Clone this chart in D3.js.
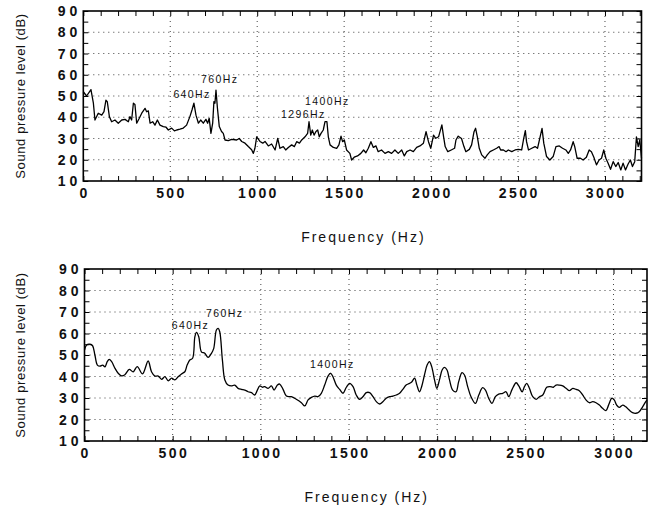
<!DOCTYPE html>
<html>
<head>
<meta charset="utf-8">
<style>
  body { margin: 0; background: #fff; }
  svg { display: block; }
  .grid line { stroke: #444; stroke-width: 1; stroke-dasharray: 1,4; }
  .minor line { stroke: #000; stroke-width: 1; }
  .minor path { display: none; }
  .tick-label { font-family: "Liberation Sans", Arial, sans-serif; font-weight: bold; font-size: 14px; fill: #111; }
  .title { font-family: "Liberation Sans", Arial, sans-serif; font-size: 13px; fill: #111; }
  .note { font-family: "Liberation Sans", Arial, sans-serif; font-size: 10.5px; fill: #111; letter-spacing: 1.4px; }
  .frame { fill: none; stroke: #000; stroke-width: 1.6; }
  .spectrum { fill: none; stroke: #000; stroke-width: 1.3; stroke-linejoin: round; }
</style>
</head>
<body>
<svg width="655" height="512"></svg>
<script src="https://d3js.org/d3.v7.min.js"></script>
<script>

// tick labels
var xTicks = [0, 500, 1000, 1500, 2000, 2500, 3000];
var yTicks = [10, 20, 30, 40, 50, 60, 70, 80, 90];

// upper spectrum (narrow band)
var topFreq = [0, 19, 44, 58, 67, 86, 106, 119, 130, 138, 150, 163, 182, 201, 221, 240, 259, 268, 278, 288,
  297, 307, 322, 336, 355, 364, 374, 384, 399, 412, 426, 441, 460, 476, 489, 508, 524, 537, 556, 575,
  594, 613, 625, 636, 648, 662, 675, 690, 705, 715, 724, 734, 744, 751, 757, 763, 771, 782, 795, 805,
  815, 834, 853, 882, 897, 911, 930, 949, 968, 978, 987, 997, 1016, 1032, 1045, 1064, 1083, 1103, 1118, 1131,
  1150, 1164, 1179, 1198, 1214, 1227, 1243, 1256, 1275, 1290, 1298, 1308, 1317, 1327, 1338, 1348, 1357, 1367, 1380, 1390,
  1401, 1409, 1419, 1438, 1457, 1470, 1482, 1491, 1501, 1514, 1533, 1543, 1558, 1577, 1596, 1612, 1625, 1639, 1654, 1668,
  1683, 1696, 1715, 1735, 1754, 1773, 1792, 1811, 1831, 1846, 1860, 1879, 1898, 1917, 1936, 1956, 1971, 1985, 1998, 2014,
  2027, 2043, 2062, 2072, 2081, 2096, 2116, 2135, 2143, 2156, 2175, 2189, 2200, 2220, 2233, 2247, 2256, 2266, 2277, 2291,
  2310, 2323, 2339, 2358, 2377, 2391, 2400, 2416, 2431, 2444, 2464, 2483, 2502, 2521, 2531, 2542, 2549, 2560, 2579, 2598,
  2612, 2627, 2638, 2648, 2664, 2683, 2702, 2718, 2737, 2756, 2775, 2789, 2802, 2817, 2826, 2840, 2859, 2874, 2893, 2909,
  2922, 2936, 2951, 2966, 2980, 2993, 3005, 3018, 3032, 3047, 3062, 3076, 3091, 3104, 3118, 3133, 3146, 3158, 3171, 3181,
  3191, 3200, 3210];
var topLevel = [52, 50, 53, 46.6, 38.7, 41.9, 41, 42.6, 48, 47.3, 40.3, 37.9, 38.7, 37.2, 38.7, 39, 37.9, 40.3, 38.7, 46.6,
  46, 37.2, 39.5, 41.9, 44.2, 42.6, 43, 37.2, 37.9, 36.3, 38.7, 36.3, 35.6, 35.3, 34, 34.9, 33.6, 34, 34.4, 34.9,
  36.3, 40.3, 43.4, 46.6, 41, 37.2, 38.7, 37.2, 39, 37.2, 39.5, 32.4, 37.2, 47.3, 46.6, 52.8, 44.6, 35.6, 33.3, 32.4,
  29.3, 29, 29.6, 29.3, 30, 28.6, 27.8, 26.2, 24.7, 23, 25.4, 30.8, 28.6, 27.8, 28.6, 26.5, 27.4, 24.6, 30.1, 25.4,
  26.2, 24.6, 25.8, 27, 26.2, 28.5, 27.8, 29.3, 30.8, 32.4, 37.9, 31.6, 34, 31.6, 33.3, 34, 30.8, 32.4, 34, 37.9,
  37.9, 30.8, 27, 25.8, 25.4, 27, 31.1, 28.5, 29.3, 24.6, 23, 19.9, 21.2, 21.8, 23, 24.6, 23.3, 25.4, 28.5, 25.8,
  26.5, 23.8, 24.6, 23, 23.8, 23, 24.6, 23, 24.6, 21.8, 23.8, 24.6, 23.8, 25.8, 26.5, 27.8, 33.2, 28.5, 25.4, 31.6,
  30.1, 30.8, 36.4, 30.8, 26.2, 23.8, 24.6, 25.4, 29.3, 31.1, 30, 26.2, 23.8, 24.9, 27, 33.2, 34.8, 30.8, 25.4, 22.3,
  20.7, 22.3, 23.8, 24.6, 25.4, 26.2, 24.6, 24.6, 23.8, 24.6, 23.8, 24.6, 24.9, 24.6, 29.3, 33.7, 28.5, 24.6, 25.4, 26.2,
  25.4, 30.8, 34.8, 27.8, 21.5, 19.9, 21.5, 26.2, 26.5, 25.4, 24.6, 23, 24.6, 28.5, 26.2, 20.7, 20.7, 19.9, 21.2, 24.6,
  23.8, 21.2, 17.6, 19.9, 20.7, 24.6, 20.7, 18.4, 15.5, 19.1, 16.8, 18.7, 15.2, 18.4, 15.2, 18, 19.9, 16.8, 19.1, 30.8,
  26.2, 29.3, 20.7];

// lower spectrum (smoothed)
var bottomFreq = [0, 12, 31, 46, 59, 73, 88, 103, 116, 129, 140, 154, 173, 191, 210, 229, 254, 276, 299, 329,
  361, 380, 399, 418, 437, 456, 475, 494, 512, 531, 550, 569, 582, 597, 613, 626, 635, 648, 663, 682,
  701, 720, 733, 748, 758, 767, 782, 796, 814, 833, 852, 871, 890, 909, 928, 947, 965, 979, 994, 1009,
  1022, 1041, 1060, 1075, 1094, 1107, 1126, 1145, 1173, 1201, 1230, 1249, 1268, 1287, 1306, 1324, 1343, 1362, 1381, 1396,
  1409, 1428, 1447, 1466, 1485, 1504, 1523, 1541, 1560, 1579, 1598, 1617, 1636, 1655, 1674, 1692, 1711, 1730, 1749, 1768,
  1787, 1805, 1824, 1843, 1857, 1872, 1885, 1900, 1913, 1928, 1943, 1956, 1969, 1985, 1998, 2013, 2028, 2041, 2056, 2070,
  2088, 2107, 2122, 2141, 2155, 2173, 2192, 2217, 2236, 2258, 2274, 2292, 2311, 2330, 2349, 2372, 2391, 2406, 2425, 2448,
  2463, 2482, 2495, 2508, 2523, 2542, 2561, 2580, 2599, 2621, 2640, 2659, 2674, 2693, 2712, 2731, 2750, 2769, 2788, 2806,
  2825, 2844, 2863, 2882, 2901, 2920, 2938, 2957, 2972, 2991, 3004, 3018, 3033, 3052, 3070, 3089, 3108, 3127, 3146, 3165,
  3183, 3190];
var bottomLevel = [52.3, 54.7, 55, 54.3, 50, 45.3, 44.8, 45.3, 44.5, 46.9, 48, 46.9, 43.8, 41.5, 40.3, 40.8, 43.3, 42.2, 44.6, 41.2,
  47.2, 42.2, 40.2, 40.2, 38.7, 39.9, 38, 39.2, 38.4, 39.9, 41.2, 42.2, 45.3, 47.7, 48.5, 58.5, 60.5, 58.5, 51.5, 50.8,
  48.9, 50.8, 53.1, 61.6, 62.4, 60.8, 47.7, 38.4, 36, 35.6, 36, 34.5, 34, 33.7, 32.9, 32.5, 31.4, 33.4, 35.6, 35,
  35.3, 34.5, 35.6, 33.7, 36, 36.5, 34, 30.9, 30.6, 29.4, 27.8, 26.3, 29.1, 30.3, 30.9, 30.6, 32.2, 36, 40.2, 41.5,
  39.9, 36, 34, 32.2, 35, 36.8, 35.3, 31.4, 29.4, 30.6, 32.5, 32.5, 30.6, 28.3, 27.2, 28.3, 29.9, 30.6, 30.9, 31.4,
  32.2, 34, 36, 36.8, 37.6, 39.2, 36, 32.9, 35.6, 40.7, 45.3, 46.9, 44.6, 38.4, 34.5, 38.4, 43, 44.2, 43, 38.4,
  33.7, 32.9, 37.6, 41.8, 40.7, 35.3, 30.6, 27.5, 31.4, 34.8, 33.7, 29.9, 27.5, 30.6, 31.8, 32.2, 32.9, 30.6, 34, 37.1,
  35.6, 32.9, 35.3, 36.8, 34.5, 30.6, 29.4, 30.6, 31.4, 35, 35.3, 35, 36, 36, 35.6, 34.5, 33.4, 34.5, 34, 33.4,
  31.4, 29.1, 27.8, 28.3, 27.8, 26.7, 25.2, 24.1, 26.7, 29.9, 29.1, 26.7, 25.6, 26.7, 25.9, 24.4, 23.2, 22.9, 23.6, 25.9,
  28.3, 29];

// peak annotations (text, Hz and dB where the text starts)
var topNotes = ["760Hz", "640Hz", "1400Hz", "1296Hz"];
var topNoteFreq = [677, 518, 1275, 1137];
var topNoteLevel = [56, 48.9, 45.8, 39.8];
var bottomNotes = ["760Hz", "640Hz", "1400Hz"];
var bottomNoteFreq = [689, 495, 1279];
var bottomNoteLevel = [67.5, 62, 44.1];

var svg = d3.select("svg");
svg.append("rect").attr("width", 655).attr("height", 512).attr("fill", "#fff");

function drawPanel(p) {
  var x = d3.scaleLinear().domain([0, p.fmax]).range([p.left, p.right]);
  var y = d3.scaleLinear().domain([10, 90]).range([p.bottom, p.top]);
  var g = svg.append("g");

  // dotted grid
  var grid = g.append("g").attr("class", "grid");
  grid.selectAll(".h").data(yTicks.slice(1, -1)).enter().append("line")
    .attr("x1", p.left).attr("x2", p.right)
    .attr("y1", function(d) { return y(d); }).attr("y2", function(d) { return y(d); });
  grid.selectAll(".v").data(xTicks.slice(1)).enter().append("line")
    .attr("y1", p.top).attr("y2", p.bottom)
    .attr("x1", function(d) { return x(d); }).attr("x2", function(d) { return x(d); });

  // inward ticks on all four sides
  var minorX = d3.range(0, p.fmax, 100);
  var minorY = d3.range(10, 91, 5);
  g.append("g").attr("class", "minor").attr("transform", "translate(0," + p.bottom + ")")
    .call(d3.axisBottom(x).tickValues(minorX).tickSize(-5).tickFormat(""));
  g.append("g").attr("class", "minor").attr("transform", "translate(0," + p.top + ")")
    .call(d3.axisTop(x).tickValues(minorX).tickSize(-5).tickFormat(""));
  g.append("g").attr("class", "minor").attr("transform", "translate(" + p.left + ",0)")
    .call(d3.axisLeft(y).tickValues(minorY).tickSize(-5).tickFormat(""));
  g.append("g").attr("class", "minor").attr("transform", "translate(" + p.right + ",0)")
    .call(d3.axisRight(y).tickValues(minorY).tickSize(-5).tickFormat(""));

  // spectrum
  var line = d3.line()
    .x(function(d, i) { return x(p.freq[i]); })
    .y(function(d) { return y(d); })
    .curve(p.smooth ? d3.curveCatmullRom.alpha(0.5) : d3.curveLinear);
  g.append("path").attr("class", "spectrum").attr("d", line(p.level));

  g.append("rect").attr("class", "frame")
    .attr("x", p.left).attr("y", p.top)
    .attr("width", p.right - p.left).attr("height", p.bottom - p.top);

  // tick labels
  g.selectAll(".xl").data(xTicks).enter().append("text")
    .attr("class", "tick-label")
    .attr("x", function(d) { return x(d) + 1.2; })
    .attr("y", p.bottom + 17)
    .attr("text-anchor", "middle")
    .style("letter-spacing", "2.4px")
    .text(function(d) { return d; });
  g.selectAll(".yl").data(yTicks).enter().append("text")
    .attr("class", "tick-label")
    .attr("x", p.left - 2)
    .attr("y", function(d) { return y(d) + 5; })
    .attr("text-anchor", "end")
    .style("letter-spacing", "4px")
    .text(function(d) { return d; });

  // annotations
  g.selectAll(".note").data(p.notes).enter().append("text")
    .attr("class", "note")
    .attr("x", function(d, i) { return x(p.noteFreq[i]); })
    .attr("y", function(d, i) { return y(p.noteLevel[i]); })
    .text(function(d) { return d; });

  // axis titles
  g.append("text").attr("class", "title")
    .attr("x", (p.left + p.right) / 2 + 1)
    .attr("y", p.bottom + 61)
    .attr("text-anchor", "middle")
    .style("font-size", "14px")
    .style("letter-spacing", "2px")
    .text("Frequency (Hz)");
  g.append("text").attr("class", "title")
    .attr("transform", "translate(25," + (p.top + p.bottom) / 2 + ") rotate(-90)")
    .attr("text-anchor", "middle")
    .style("letter-spacing", "0.6px")
    .text("Sound pressure level (dB)");
}

drawPanel({ left: 83.3, right: 641.5, top: 11, bottom: 181, fmax: 3210,
  freq: topFreq, level: topLevel, smooth: false,
  notes: topNotes, noteFreq: topNoteFreq, noteLevel: topNoteLevel });
drawPanel({ left: 84.5, right: 647, top: 269, bottom: 441, fmax: 3190,
  freq: bottomFreq, level: bottomLevel, smooth: true,
  notes: bottomNotes, noteFreq: bottomNoteFreq, noteLevel: bottomNoteLevel });

</script>
</body>
</html>
